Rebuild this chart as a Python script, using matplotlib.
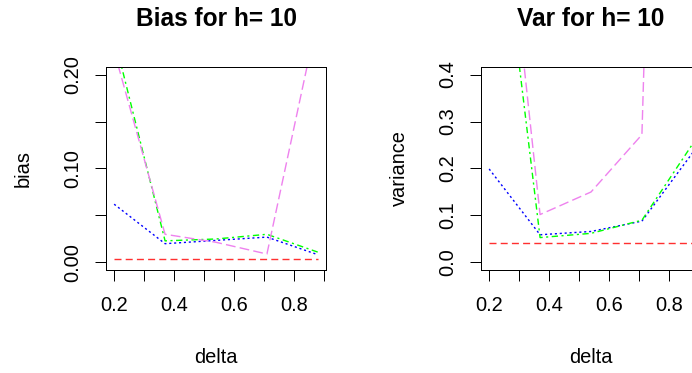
import matplotlib
matplotlib.use("Agg")
import matplotlib.pyplot as plt

plt.rcParams["font.family"] = ["Liberation Sans", "DejaVu Sans"]

delta = [0.2, 0.37, 0.54, 0.71, 0.88]

# bias curves
bias_ref = [0.004, 0.004, 0.004, 0.004, 0.004]
bias_blue = [0.062, 0.020, 0.0235, 0.027, 0.0083]
bias_green = [0.24, 0.023, 0.025, 0.030, 0.011]
bias_violet = [0.225, 0.030, 0.0215, 0.009, 0.262]

# variance curves
var_ref = [0.041, 0.041, 0.041, 0.041, 0.041]
var_blue = [0.199, 0.059, 0.066, 0.088, 0.234]
var_green = [0.95, 0.053, 0.062, 0.090, 0.253]
var_violet = [1.11, 0.102, 0.150, 0.272, 4.0]

x_ticks = [0.2, 0.3, 0.4, 0.5, 0.6, 0.7, 0.8, 0.9]
x_ticklabels = ["0.2", "", "0.4", "", "0.6", "", "0.8", ""]
bias_ticks = [0.0, 0.05, 0.10, 0.15, 0.20]
bias_ticklabels = ["0.00", "", "0.10", "", "0.20"]
var_ticks = [0.0, 0.1, 0.2, 0.3, 0.4]
var_ticklabels = ["0.0", "0.1", "0.2", "0.3", "0.4"]

W, H = 692, 373
fig = plt.figure(figsize=(W / 72, H / 72), dpi=72)
ax1 = fig.add_axes([106 / W, 103 / H, 220 / W, 203 / H])
ax2 = fig.add_axes([481 / W, 103 / H, 220 / W, 203 / H])

# R-like line types: dashed, dotted, dotdash, longdash
styles = [
    ("#FF3030", (0, (5, 3))),
    ("#0000FF", (0, (1.5, 2))),
    ("#00FF00", (0, (1.5, 2.5, 4.5, 2.5))),
    ("violet", (0, (7, 3))),
]
FS = 20


def r_range(lo, hi):
    pad = 0.04 * (hi - lo)
    return lo - pad, hi + pad


def draw(ax, series, yticks, yticklabels, ylim, title, ylabel, ylab_x):
    for (col, ls), ys in zip(styles, series):
        ax.plot(delta, ys, color=col, linestyle=ls, linewidth=1.4)
    ax.set_xlim(*r_range(0.2, 0.88))
    ax.set_ylim(*r_range(*ylim))
    ax.set_xticks(x_ticks)
    ax.set_xticklabels(x_ticklabels, fontsize=FS)
    ax.set_yticks(yticks)
    ax.set_yticklabels(yticklabels, fontsize=FS, rotation=90, va="center")
    ax.tick_params(axis="x", length=11, width=1, pad=15)
    ax.tick_params(axis="y", length=11, width=1, pad=13)
    for sp in ax.spines.values():
        sp.set_linewidth(1)
    ax.set_title(title, fontsize=24.5, fontweight="bold", pad=41)
    ax.set_xlabel("delta", fontsize=FS)
    ax.xaxis.set_label_coords(0.5, -0.385)
    ax.set_ylabel(ylabel, fontsize=FS)
    ax.yaxis.set_label_coords(ylab_x, 0.5)


draw(ax1, [bias_ref, bias_blue, bias_green, bias_violet],
     bias_ticks, bias_ticklabels, (0, 0.2), "Bias for h= 10", "bias", -0.335)
draw(ax2, [var_ref, var_blue, var_green, var_violet],
     var_ticks, var_ticklabels, (0, 0.4), "Var for h= 10", "variance", -0.327)

fig.savefig("out.png", dpi=72)
